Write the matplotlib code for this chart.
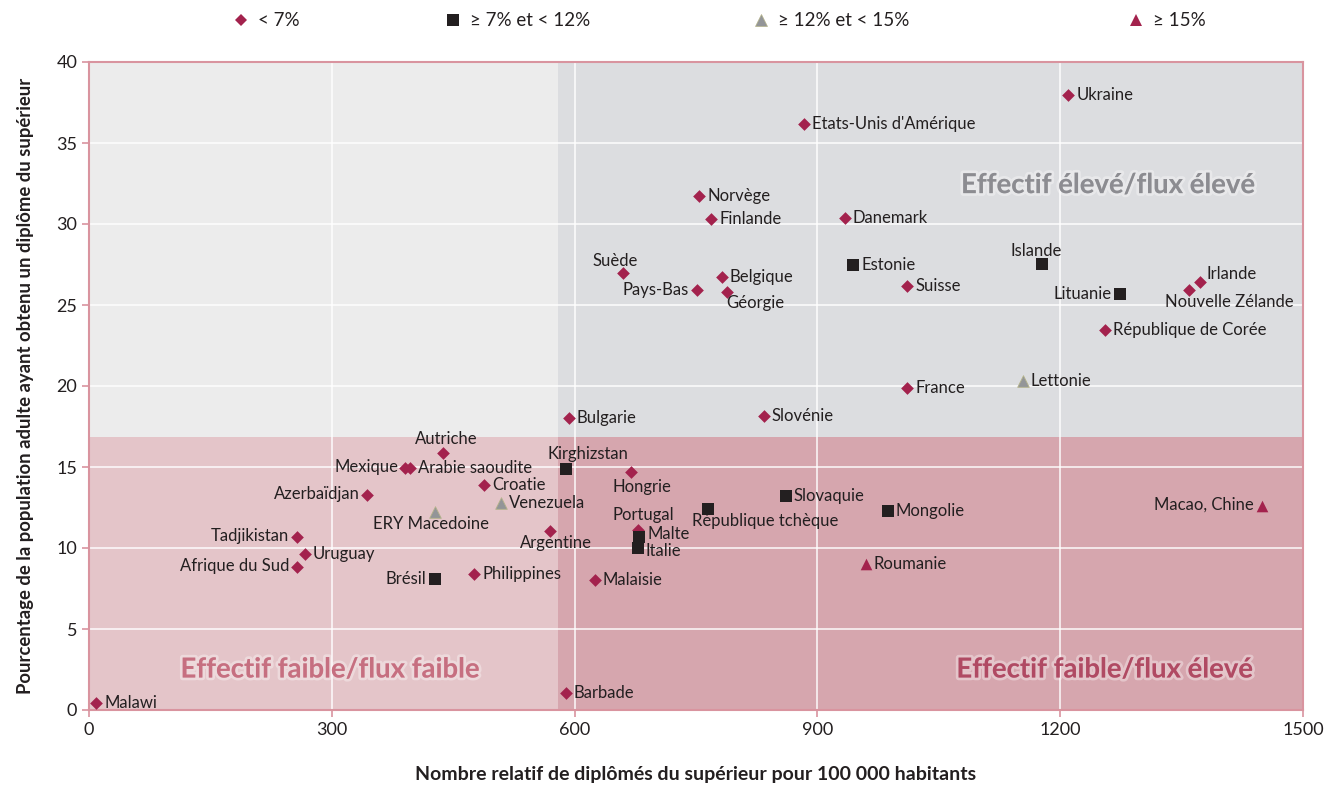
import matplotlib
matplotlib.use("Agg")
import matplotlib.pyplot as plt
import matplotlib.patheffects as pe
from matplotlib.lines import Line2D

plt.rcParams['font.family'] = ['Lato', 'DejaVu Sans']

# ---- data ----
# group: <7%
low_names = ["Ukraine", "Etats-Unis d'Amérique", "Norvège", "Finlande", "Danemark", "Suède",
             "Pays-Bas", "Belgique", "Géorgie", "Suisse", "Irlande", "Nouvelle Zélande",
             "République de Corée", "France", "Slovénie", "Bulgarie", "Autriche", "Mexique",
             "Arabie saoudite", "Hongrie", "Azerbaïdjan", "Croatie", "Argentine", "Portugal",
             "Tadjikistan", "Uruguay", "Afrique du Sud", "Philippines", "Malaisie", "Barbade", "Malawi"]
low_x = [1210, 884, 754, 769, 934, 660, 751, 782, 788, 1011, 1373, 1359, 1255, 1011, 834, 593,
         437, 391, 397, 670, 344, 488, 570, 678, 257, 267, 257, 476, 625, 589, 9]
low_y = [37.96, 36.2, 31.7, 30.3, 30.4, 27.0, 25.95, 26.7, 25.8, 26.2, 26.45, 25.9, 23.45, 19.85,
         18.15, 18.05, 15.85, 14.95, 14.95, 14.7, 13.3, 13.9, 11.05, 11.1, 10.65, 9.6, 8.85, 8.4,
         8.0, 1.05, 0.45]

# group: >=7% et <12%
mid_names = ["Islande", "Lituanie", "Estonie", "Kirghizstan", "Slovaquie", "République tchèque",
             "Mongolie", "Malte", "Italie", "Brésil"]
mid_x = [1178, 1274, 944, 589, 861, 765, 987, 680, 678, 427]
mid_y = [27.55, 25.7, 27.5, 14.85, 13.2, 12.4, 12.3, 10.7, 10.0, 8.1]

# group: >=12% et <15%
hi_names = ["Lettonie", "ERY Macedoine", "Venezuela"]
hi_x = [1154, 427, 509]
hi_y = [20.3, 12.2, 12.8]

# group: >=15%
top_names = ["Macao, Chine", "Roumanie"]
top_x = [1449, 960]
top_y = [12.6, 9.0]

legend_labels = ["< 7%", "≥ 7% et < 12%", "≥ 12% et < 15%", "≥ 15%"]
x_ticks = [0, 300, 600, 900, 1200, 1500]
y_ticks = [0, 5, 10, 15, 20, 25, 30, 35, 40]
x_split = 580
y_split = 16.85

# label placement (offset in pixels, horizontal alignment); default: right
label_pos = {
    "Suède": (-8, 12, "center"),
    "Pays-Bas": (-8, 0, "right"),
    "Géorgie": (-1, -11, "left"),
    "Irlande": (6, 8, "left"),
    "Nouvelle Zélande": (40, -12, "center"),
    "Autriche": (4, 14, "center"),
    "Mexique": (-7, 1, "right"),
    "Hongrie": (11, -15, "center"),
    "Azerbaïdjan": (-8, 1, "right"),
    "Argentine": (6, -12, "center"),
    "Portugal": (6, 15, "center"),
    "Tadjikistan": (-8, 1, "right"),
    "Afrique du Sud": (-8, 1, "right"),
    "Islande": (-6, 13, "center"),
    "Lituanie": (-8, 0, "right"),
    "Kirghizstan": (22, 15, "center"),
    "République tchèque": (57, -12, "center"),
    "Brésil": (-8, 0, "right"),
    "ERY Macedoine": (-4, -12, "center"),
    "Macao, Chine": (-8, 1, "right"),
    "Malte": (8, 3, "left"),
    "Italie": (8, -3, "left"),
}

RED = "#a3224d"
BLACK = "#231f20"
GREY = "#939598"
PINK = "#d9949f"

fig = plt.figure(figsize=(13.25, 7.85), dpi=100)
ax = fig.add_axes([89 / 1325, 75 / 785, 1214 / 1325, 648 / 785])
ax.set_xlim(0, 1500)
ax.set_ylim(0, 40)

# quadrant backgrounds
ax.axvspan(0, x_split, ymin=y_split / 40, ymax=1, color="#ececec", zorder=0, lw=0)
ax.axvspan(x_split, 1500, ymin=y_split / 40, ymax=1, color="#dcdde0", zorder=0, lw=0)
ax.axvspan(0, x_split, ymin=0, ymax=y_split / 40, color="#e4c5c9", zorder=0, lw=0)
ax.axvspan(x_split, 1500, ymin=0, ymax=y_split / 40, color="#d6a6ae", zorder=0, lw=0)

ax.set_xticks(x_ticks)
ax.set_yticks(y_ticks)
ax.grid(True, color="white", lw=1.3, alpha=0.8, zorder=1)
ax.set_axisbelow(True)
for s in ax.spines.values():
    s.set_color(PINK)
    s.set_linewidth(1.5)
ax.tick_params(colors=PINK, labelcolor="#231f20", labelsize=13, length=5, width=1.2)

# quadrant titles
glow = [pe.withStroke(linewidth=4, foreground=(1, 1, 1, 0.35))]
ax.text(1259, 32.4, "Effectif élevé/flux élevé", ha="center", va="center", fontsize=19.8,
        fontweight="bold", color="#8c8c91", path_effects=glow, zorder=2)
ax.text(298, 2.5, "Effectif faible/flux faible", ha="center", va="center", fontsize=19.8,
        fontweight="bold", color="#c66f80", path_effects=glow, zorder=2)
ax.text(1255, 2.5, "Effectif faible/flux élevé", ha="center", va="center", fontsize=19.8,
        fontweight="bold", color="#b04a63", path_effects=glow, zorder=2)

ax.scatter(low_x, low_y, marker="D", s=42, color=RED, zorder=4, lw=0)
ax.scatter(mid_x, mid_y, marker="s", s=70, color=BLACK, zorder=4, lw=0)
ax.scatter(hi_x, hi_y, marker="^", s=70, color=GREY, edgecolor="#b5b38a", lw=0.6, zorder=4)
ax.scatter(top_x, top_y, marker="^", s=70, color=RED, zorder=4, lw=0)

def label(names, xs, ys):
    for n, x, y in zip(names, xs, ys):
        dx, dy, ha = label_pos.get(n, (8, 0, "left"))
        ax.annotate(n, (x, y), xytext=(dx, dy), textcoords="offset pixels", ha=ha,
                    va="center", fontsize=12, color="#231f20", zorder=5)

label(low_names, low_x, low_y)
label(mid_names, mid_x, mid_y)
label(hi_names, hi_x, hi_y)
label(top_names, top_x, top_y)

ax.set_xlabel("Nombre relatif de diplômés du supérieur pour 100 000 habitants", fontsize=14,
              fontweight="bold", color="#231f20", labelpad=20)
ax.set_ylabel("Pourcentage de la population adulte ayant obtenu un diplôme du supérieur",
              fontsize=13.3, fontweight="bold", color="#231f20", labelpad=16)

# legend (one entry per box, positioned like the reference)
handles = [
    Line2D([], [], marker="D", ls="", color=RED, markersize=6, mew=0),
    Line2D([], [], marker="s", ls="", color=BLACK, markersize=8, mew=0),
    Line2D([], [], marker="^", ls="", color=GREY, markersize=8, mew=0.5, markeredgecolor="#b5b38a"),
    Line2D([], [], marker="^", ls="", color=RED, markersize=8, mew=0),
]
leg_x = [232, 444, 752, 1127]
for h, lab, lx in zip(handles, legend_labels, leg_x):
    lg = fig.legend([h], [lab], loc="center left", bbox_to_anchor=(lx / 1325, 1 - 21 / 785),
                    frameon=False, fontsize=13.5, handlelength=1.0, handletextpad=0.4,
                    borderpad=0, borderaxespad=0)
    for t in lg.get_texts():
        t.set_color("#231f20")

fig.savefig("out.png", dpi=100)
